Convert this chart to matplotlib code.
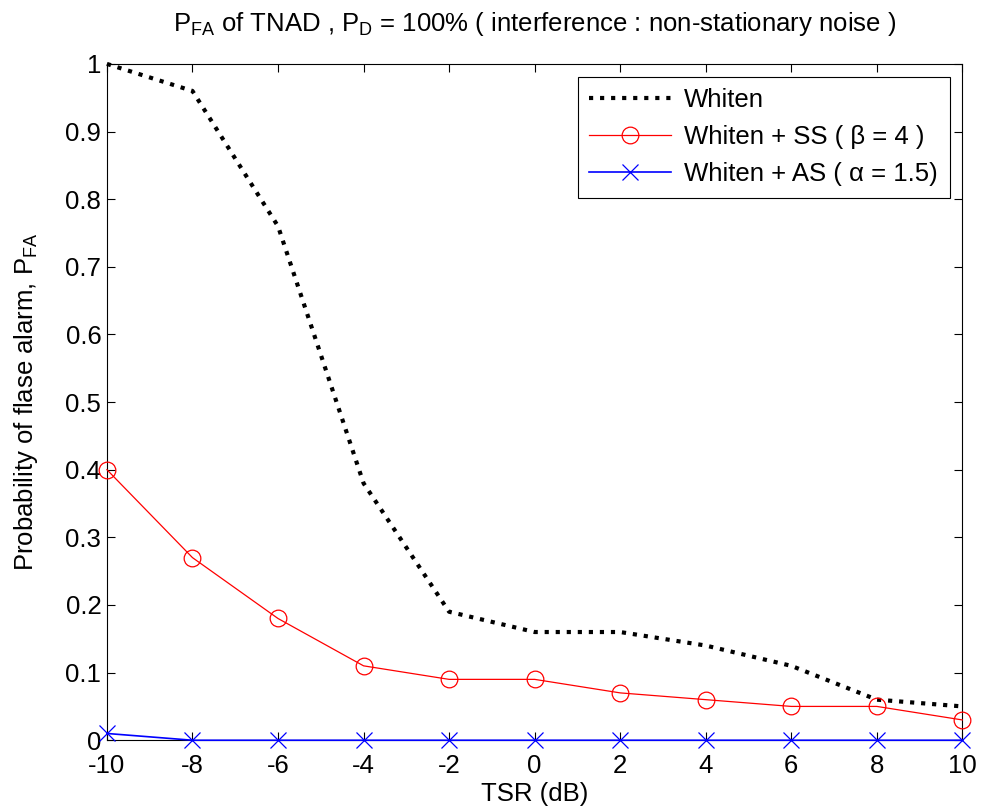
import matplotlib
matplotlib.use("Agg")
import matplotlib.pyplot as plt

plt.rcParams['font.family'] = ['Liberation Sans', 'DejaVu Sans']
plt.rcParams['mathtext.fontset'] = 'custom'
plt.rcParams['mathtext.rm'] = 'Liberation Sans'

tsr = [-10, -8, -6, -4, -2, 0, 2, 4, 6, 8, 10]
whiten = [1.00, 0.96, 0.76, 0.38, 0.19, 0.16, 0.16, 0.14, 0.11, 0.06, 0.05]
whiten_ss = [0.40, 0.27, 0.18, 0.11, 0.09, 0.09, 0.07, 0.06, 0.05, 0.05, 0.03]
whiten_as = [0.01, 0, 0, 0, 0, 0, 0, 0, 0, 0, 0]
xticks = [-10, -8, -6, -4, -2, 0, 2, 4, 6, 8, 10]
yticks = [0, 0.1, 0.2, 0.3, 0.4, 0.5, 0.6, 0.7, 0.8, 0.9, 1]
ytick_labels = ['0', '0.1', '0.2', '0.3', '0.4', '0.5', '0.6', '0.7', '0.8', '0.9', '1']

FS = 18.5

fig = plt.figure(figsize=(9.81, 8.09), dpi=100)
ax = fig.add_axes([0.109, 0.085, 0.872, 0.836])

ax.plot(tsr, whiten, color='black', linestyle=':', linewidth=3, label='Whiten',
        clip_on=False, zorder=3)
ax.plot(tsr, whiten_ss, color='red', linewidth=0.9, marker='o', markersize=12,
        markerfacecolor='none', markeredgewidth=0.9, label='Whiten + SS ( β = 4 )',
        clip_on=False, zorder=3)
ax.plot(tsr, whiten_as, color='blue', linewidth=1.2, marker='x', markersize=12,
        markeredgewidth=0.9, label='Whiten + AS ( α = 1.5)', clip_on=False, zorder=4)

ax.set_xlim(-10, 10)
ax.set_ylim(0, 1)
ax.set_xticks(xticks)
ax.set_xticklabels([str(t) for t in xticks])
ax.set_yticks(yticks)
ax.set_yticklabels(ytick_labels)
ax.tick_params(direction='in', top=True, right=True, length=6, labelsize=FS)
ax.tick_params(axis='x', pad=10)
ax.tick_params(axis='y', pad=4)
for s in ax.spines.values():
    s.set_linewidth(0.8)

ax.set_xlabel('TSR (dB)', fontsize=FS, labelpad=3)
ax.set_ylabel('Probability of flase alarm, $\\mathregular{P_{FA}}$', fontsize=FS, labelpad=18)
ax.set_title('$\\mathregular{P_{FA}}$ of TNAD , $\\mathregular{P_{D}}$ = 100% ( interference : non-stationary noise )',
             fontsize=FS, pad=24)

leg = ax.legend(loc='upper right', fontsize=FS, fancybox=False, edgecolor='black',
                framealpha=1, borderaxespad=0.5, handlelength=3.2, labelspacing=0.5,
                borderpad=0.45, handletextpad=0.5)
leg.get_frame().set_linewidth(0.8)
leg.set_zorder(10)

fig.savefig('out.png', dpi=100)
